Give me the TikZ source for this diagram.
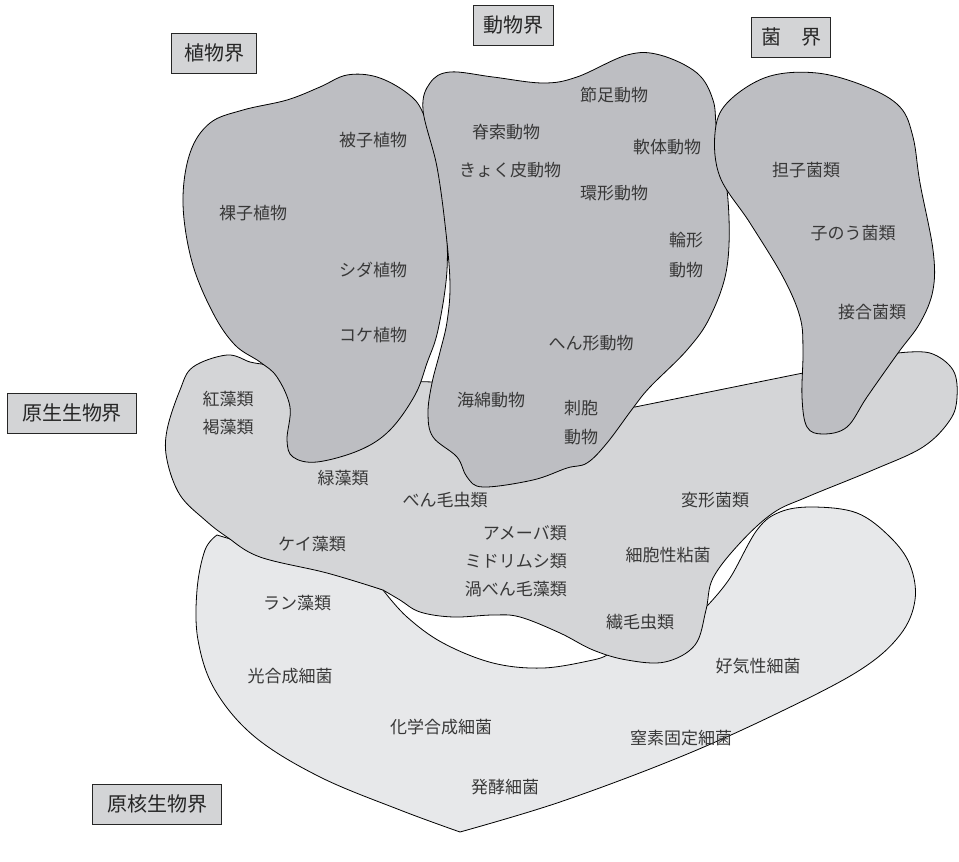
\documentclass[tikz,border=0pt]{standalone}
\usepackage{fontspec}
\setmainfont{Noto Sans CJK JP}
\newfontfamily\jpf{Noto Sans CJK JP}
\definecolor{darkblob}{HTML}{BDBEC2}
\definecolor{protblob}{HTML}{D4D5D7}
\definecolor{prokblob}{HTML}{E7E8EA}
\definecolor{boxgray}{HTML}{D3D4D6}
\definecolor{txt}{HTML}{383838}
\tikzset{
  blob/.style={draw=black, line width=0.8pt, line join=round},
  lab/.style={font=\jpf\fontsize{17}{17}\selectfont, text=txt, inner sep=0pt},
  kbox/.style={draw=black!85, fill=boxgray, line width=0.9pt, font=\jpf\fontsize{20}{20}\selectfont, text=black!85, minimum height=40pt, inner sep=0pt}
}
\begin{document}
\begin{tikzpicture}[x=1pt,y=-1pt]
\useasboundingbox (0,0) rectangle (959,862);
% prokaryote
\path[blob, fill=prokblob]
  plot[smooth, tension=0.6] coordinates {(383,590) (407,617) (443,643) (493,663) (543,668) (593,660) (607,655)}
  -- (650,645) -- (690,620)
  -- plot[smooth, tension=0.6] coordinates {(708,605) (730,578) (757,530) (780,512) (813,507) (857,513) (890,537) (910,565) (915,600) (900,635) (860,670) (780,712) (680,757) (560,802) (460,832)}
  -- plot[smooth, tension=0.6] coordinates {(460,832) (400,810) (320,777) (255,737) (215,690) (198,640) (197,590) (205,550) (217,535)}
  -- (300,560) -- cycle;
% protist
\path[blob, fill=protblob]
  plot[smooth, tension=0.6] coordinates {(898,353) (930,353) (953,370) (957,397) (950,420) (923,447) (873,470) (807,497) (773,513) (740,543) (713,578) (706,610) (695,645) (665,662) (627,660) (593,650) (560,633) (520,617) (493,615) (453,617) (420,612) (400,600) (383,590)}
  -- plot[smooth, tension=0.6] coordinates {(383,590) (327,573) (260,557) (227,537) (205,520) (180,495) (167,460) (167,430) (180,390) (193,367) (227,355) (250,362) (262,364)}
  -- (300,378) -- (433,382) -- (635,407) -- (803,373) -- cycle;
% plants
\path[blob, fill=darkblob]
  plot[smooth cycle, tension=0.6] coordinates {(183,203) (190,153) (210,123) (243,110) (287,100) (320,87) (347,75) (377,77) (407,93) (423,113) (437,160) (445,210) (447,270) (438,330) (427,363) (415,395) (390,430) (360,450) (317,462) (293,457) (287,440) (290,407) (277,377) (260,362) (235,345) (213,313) (192,262)};
% animals
\path[blob, fill=darkblob]
  plot[smooth cycle, tension=0.6] coordinates {(423,110) (430,83) (450,72) (493,77) (543,83) (577,77) (627,55) (660,55) (697,73) (713,100) (717,133) (728,200) (727,267) (710,317) (687,350) (650,387) (633,408) (607,443) (587,463) (567,468) (533,480) (483,487) (467,477) (457,457) (433,437) (428,413) (432,383) (440,352) (447,322) (450,285) (446,233) (437,167)};
% fungi
\path[blob, fill=darkblob]
  plot[smooth cycle, tension=0.6] coordinates {(715,133) (727,103) (767,77) (817,73) (867,87) (900,107) (913,137) (920,183) (933,250) (933,290) (920,323) (898,353) (867,397) (847,427) (823,434) (807,427) (802,397) (803,350) (800,317) (783,277) (750,223) (720,177)};
% kingdom boxes
\node[kbox, minimum width=85pt] (kplant) at (214,53) {植物界};
\node[kbox, minimum width=80pt] (kanimal) at (513,25) {動物界};
\node[kbox, minimum width=79pt] (kfungi) at (791,37) {菌　界};
\node[kbox, minimum width=129pt] (kprotist) at (72,413) {原生生物界};
\node[kbox, minimum width=129pt] (kprok) at (157,804) {原核生物界};
% plant labels
\node[lab] (p1) at (373,140) {被子植物};
\node[lab] (p2) at (253,213) {裸子植物};
\node[lab] (p3) at (373,270) {シダ植物};
\node[lab] (p4) at (373,335) {コケ植物};
% animal labels
\node[lab] (a1) at (506,132) {脊索動物};
\node[lab] (a2) at (510,170) {きょく皮動物};
\node[lab] (a3) at (614,95) {節足動物};
\node[lab] (a4) at (667,147) {軟体動物};
\node[lab] (a5) at (614,193) {環形動物};
\node[lab] (a6) at (686,240) {輪形};
\node[lab] (a7) at (686,270) {動物};
\node[lab] (a8) at (591,343) {へん形動物};
\node[lab] (a9) at (491,400) {海綿動物};
\node[lab] (a10) at (581,408) {刺胞};
\node[lab] (a11) at (581,437) {動物};
% fungi labels
\node[lab] (f1) at (806,170) {担子菌類};
\node[lab] (f2) at (853,233) {子のう菌類};
\node[lab] (f3) at (872,312) {接合菌類};
% protist labels
\node[lab] (r1) at (228,399) {紅藻類};
\node[lab] (r2) at (228,427) {褐藻類};
\node[lab] (r3) at (343,478) {緑藻類};
\node[lab] (r4) at (445,500) {べん毛虫類};
\node[lab] (r5) at (715,500) {変形菌類};
\node[lab, anchor=east] (r6) at (567,533) {アメーバ類};
\node[lab, anchor=east] (r7) at (567,561) {ミドリムシ類};
\node[lab, anchor=east] (r8) at (567,589) {渦べん毛藻類};
\node[lab] (r9) at (312,544) {ケイ藻類};
\node[lab] (r10) at (668,555) {細胞性粘菌};
\node[lab] (r11) at (640,622) {繊毛虫類};
% prokaryote labels
\node[lab] (k1) at (297,603) {ラン藻類};
\node[lab] (k2) at (290,676) {光合成細菌};
\node[lab] (k3) at (758,666) {好気性細菌};
\node[lab] (k4) at (441,727) {化学合成細菌};
\node[lab] (k5) at (681,738) {窒素固定細菌};
\node[lab] (k6) at (505,787) {発酵細菌};
\end{tikzpicture}
\end{document}
